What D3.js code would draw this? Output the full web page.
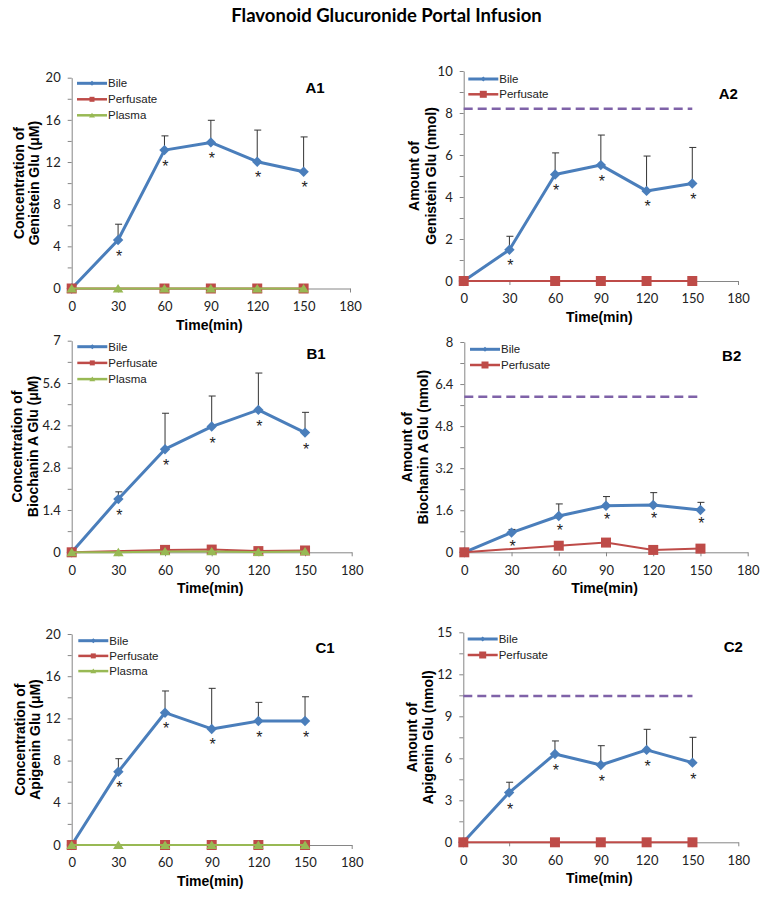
<!DOCTYPE html>
<html>
<head>
<meta charset="utf-8">
<script src="https://cdn.jsdelivr.net/npm/d3@7"></script>
<style>
  html, body { margin: 0; padding: 0; background: #fff; }
  svg { display: block; }
</style>
</head>
<body>
<svg id="chart" width="771" height="900"></svg>
<script>
// ---------------- DATA ----------------
const times = [0, 30, 60, 90, 120, 150];
const xTicks = [0, 30, 60, 90, 120, 150, 180];
const seriesNames = ["Bile", "Perfusate", "Plasma"];

// A1: Genistein Glu concentration (µM)
const a1Bile = [0, 4.6, 13.13, 13.86, 12.03, 11.08];
const a1BileSD = [0, 1.5, 1.35, 2.1, 3.0, 3.3];
const a1Perfusate = [0, null, 0, 0, 0, 0];
const a1Plasma = [0, 0, 0, 0, 0, 0];
const a1YTicks = [0, 4, 8, 12, 16, 20];

// A2: Genistein Glu amount (nmol)
const a2Bile = [0, 1.49, 5.07, 5.52, 4.29, 4.64];
const a2BileSD = [0, 0.64, 1.03, 1.43, 1.66, 1.72];
const a2Perfusate = [0, null, 0, 0, 0, 0];
const a2Dose = 8.2;
const a2YTicks = [0, 2, 4, 6, 8, 10];

// B1: Biochanin A Glu concentration (µM)
const b1Bile = [0, 1.76, 3.41, 4.16, 4.71, 3.96];
const b1BileSD = [0, 0.24, 1.19, 1.01, 1.22, 0.67];
const b1Perfusate = [0, null, 0.08, 0.09, 0.04, 0.06];
const b1Plasma = [0, 0, 0.03, 0.03, 0.01, 0.03];
const b1YTicks = [0, 1.4, 2.8, 4.2, 5.6, 7];

// B2: Biochanin A Glu amount (nmol)
const b2Bile = [0, 0.75, 1.38, 1.77, 1.80, 1.61];
const b2BileSD = [0, 0.12, 0.46, 0.35, 0.47, 0.29];
const b2Perfusate = [0, null, 0.25, 0.37, 0.09, 0.14];
const b2Dose = 5.92;
const b2YTicks = [0, 1.6, 3.2, 4.8, 6.4, 8];

// C1: Apigenin Glu concentration (µM)
const c1Bile = [0, 6.95, 12.54, 11.0, 11.75, 11.75];
const c1BileSD = [0, 1.23, 2.06, 3.85, 1.77, 2.3];
const c1Perfusate = [0, null, 0, 0, 0, 0];
const c1Plasma = [0, 0, 0, 0, 0, 0];
const c1YTicks = [0, 4, 8, 12, 16, 20];

// C2: Apigenin Glu amount (nmol)
const c2Bile = [0, 3.55, 6.31, 5.52, 6.6, 5.69];
const c2BileSD = [0, 0.74, 0.93, 1.38, 1.47, 1.81];
const c2Perfusate = [0, null, 0, 0, 0, 0];
const c2Dose = 10.45;
const c2YTicks = [0, 3, 6, 9, 12, 15];

// significance marks (* at every non-zero time point)
const significant = [false, true, true, true, true, true];

// ---------------- STYLE ----------------
const COLORS = { Bile: "#4A7EBB", Perfusate: "#BE4B48", Plasma: "#98B954", dose: "#7F62A8", axis: "#868686", err: "#333333" };
const TICK_FONT = "Lato, 'Open Sans', sans-serif";
const ARIAL = "'Liberation Sans', Arial, sans-serif";

const panels = [
  { id: "A1", bile: a1Bile, sd: a1BileSD, perf: a1Perfusate, plasma: a1Plasma, yTicks: a1YTicks,
    title: ["Concentration of", "Genistein Glu (\u03bcM)"],
    box: { x0: 71.7, x1: 350, yTop: 77.7, yBot: 288.5 }, titleX: [19, 33.5],
    legend: { x: 77, y: 83.3, dy: 16, mk: 5 }, label: { x: 315, y: 87.7 }, astOff: 12.5 },
  { id: "A2", bile: a2Bile, sd: a2BileSD, perf: a2Perfusate, plasma: null, dose: a2Dose, yTicks: a2YTicks,
    title: ["Amount of", "Genistein Glu (nmol)"],
    box: { x0: 463.7, x1: 738, yTop: 71, yBot: 281 }, titleX: [414, 430.7],
    legend: { x: 468.3, y: 79, dy: 15.3, mk: 7 }, label: { x: 728.3, y: 93.3 }, astOff: 12.5 },
  { id: "B1", bile: b1Bile, sd: b1BileSD, perf: b1Perfusate, plasma: b1Plasma, yTicks: b1YTicks,
    title: ["Concentration of", "Biochanin A Glu (\u03bcM)"],
    box: { x0: 71.7, x1: 351.7, yTop: 340.7, yBot: 552.3 }, titleX: [17.3, 33.3],
    legend: { x: 77.3, y: 346.7, dy: 16.2, mk: 5 }, label: { x: 316, y: 353.3 }, astOff: 13 },
  { id: "B2", bile: b2Bile, sd: b2BileSD, perf: b2Perfusate, plasma: null, dose: b2Dose, yTicks: b2YTicks,
    title: ["Amount of", "Biochanin A Glu (nmol)"],
    box: { x0: 464.3, x1: 747.7, yTop: 342, yBot: 552.3 }, titleX: [406.7, 423.3],
    legend: { x: 470, y: 349.3, dy: 15.7, mk: 7 }, label: { x: 731.7, y: 355 }, astOff: 10.5 },
  { id: "C1", bile: c1Bile, sd: c1BileSD, perf: c1Perfusate, plasma: c1Plasma, yTicks: c1YTicks,
    title: ["Concentration of", "Apigenin Glu (\u03bcM)"],
    box: { x0: 71.7, x1: 351.7, yTop: 634, yBot: 845 }, titleX: [20, 35],
    legend: { x: 78.3, y: 640.7, dy: 15.2, mk: 5 }, label: { x: 325, y: 647.3 }, astOff: 12.5 },
  { id: "C2", bile: c2Bile, sd: c2BileSD, perf: c2Perfusate, plasma: null, dose: c2Dose, yTicks: c2YTicks,
    title: ["Amount of", "Apigenin Glu (nmol)"],
    box: { x0: 463.3, x1: 738.3, yTop: 632.3, yBot: 842.3 }, titleX: [411.7, 427.7],
    legend: { x: 467.7, y: 639, dy: 16, mk: 7 }, label: { x: 733.3, y: 646 }, astOff: 13 }
];

const svg = d3.select("#chart");

svg.append("text")
  .attr("x", 386.5).attr("y", 15)
  .attr("text-anchor", "middle").attr("dominant-baseline", "central")
  .style("font-family", TICK_FONT).style("font-weight", "bold").style("font-size", "18.5px")
  .text("Flavonoid Glucuronide Portal Infusion");

const diamondPath = r => `M0,${-r}L${r},0L0,${r}L${-r},0Z`;
const squarePath = r => `M${-r},${-r}H${r}V${r}H${-r}Z`;
const trianglePath = r => `M0,${-r * 0.85}L${r},${r * 0.75}L${-r},${r * 0.75}Z`;

panels.forEach(p => {
  const b = p.box;
  const yMax = p.yTicks[p.yTicks.length - 1];
  const x = d3.scaleLinear().domain([0, 180]).range([b.x0, b.x1]);
  const y = d3.scaleLinear().domain([0, yMax]).range([b.yBot, b.yTop]);
  const g = svg.append("g");

  // y axis with minor ticks (every half step)
  const step = p.yTicks[1] - p.yTicks[0];
  const allTicks = d3.range(0, p.yTicks.length * 2 - 1).map(i => i * step / 2);
  const yAxis = d3.axisLeft(y).tickValues(allTicks).tickSize(4).tickSizeOuter(0)
    .tickFormat((d, i) => i % 2 === 0 ? String(p.yTicks[i / 2]) : "").tickPadding(7);
  const ya = g.append("g").attr("transform", `translate(${b.x0},0)`).call(yAxis);
  ya.selectAll("path, line").attr("stroke", COLORS.axis);
  ya.selectAll("text").style("font-family", TICK_FONT).style("font-size", "13px").attr("fill", "#222");

  // x axis
  const xAxis = d3.axisBottom(x).tickValues(xTicks).tickSize(4).tickSizeOuter(0).tickPadding(9);
  const xa = g.append("g").attr("transform", `translate(0,${b.yBot})`).call(xAxis);
  xa.selectAll("path, line").attr("stroke", COLORS.axis);
  xa.selectAll("text").style("font-family", TICK_FONT).style("font-size", "13px").attr("fill", "#222");

  // x title
  g.append("text")
    .attr("x", (b.x0 + b.x1) / 2 - 1.5).attr("y", b.yBot + 36)
    .attr("text-anchor", "middle").attr("dominant-baseline", "central")
    .style("font-family", ARIAL).style("font-weight", "bold").style("font-size", "14px")
    .text("Time(min)");

  // y title (two lines)
  const yMid = (b.yTop + b.yBot) / 2;
  p.title.forEach((t, i) => {
    g.append("text")
      .attr("transform", `translate(${p.titleX[i]},${yMid}) rotate(-90)`)
      .attr("text-anchor", "middle").attr("dominant-baseline", "central")
      .style("font-family", ARIAL).style("font-weight", "bold").style("font-size", "14px")
      .text(t);
  });

  // dose line
  if (p.dose != null) {
    g.append("line")
      .attr("x1", x(0)).attr("x2", x(150))
      .attr("y1", y(p.dose)).attr("y2", y(p.dose))
      .attr("stroke", COLORS.dose).attr("stroke-width", 2.5)
      .attr("stroke-dasharray", "9,5");
  }

  const pts = arr => times.map((t, i) => ({ t, v: arr[i], i })).filter(d => d.v != null);
  const line = d3.line().x(d => x(d.t)).y(d => y(d.v));

  // Bile: error bars (upper only), line, markers
  const bilePts = pts(p.bile);
  bilePts.filter(d => p.sd[d.i] > 0).forEach(d => {
    const top = y(d.v + p.sd[d.i]);
    g.append("line").attr("x1", x(d.t)).attr("x2", x(d.t)).attr("y1", y(d.v)).attr("y2", top)
      .attr("stroke", COLORS.err).attr("stroke-width", 1);
    g.append("line").attr("x1", x(d.t) - 3).attr("x2", x(d.t) + 4).attr("y1", top).attr("y2", top)
      .attr("stroke", COLORS.err).attr("stroke-width", 1);
  });
  g.append("path").datum(bilePts).attr("d", line)
    .attr("fill", "none").attr("stroke", COLORS.Bile).attr("stroke-width", 3).attr("stroke-linejoin", "round");
  g.selectAll(null).data(bilePts).enter().append("path")
    .attr("transform", d => `translate(${x(d.t)},${y(d.v)})`)
    .attr("d", diamondPath(5.2)).attr("fill", COLORS.Bile);

  // asterisks
  g.selectAll(null).data(bilePts.filter(d => significant[d.i])).enter().append("text")
    .attr("x", d => x(d.t) + 1).attr("y", d => y(d.v) + p.astOff + 9)
    .attr("text-anchor", "middle")
    .style("font-family", ARIAL).style("font-size", "16px").attr("fill", "#222")
    .text("*");

  // Perfusate
  const perfPts = pts(p.perf);
  g.append("path").datum(perfPts).attr("d", line)
    .attr("fill", "none").attr("stroke", COLORS.Perfusate).attr("stroke-width", 2);
  g.selectAll(null).data(perfPts).enter().append("path")
    .attr("transform", d => `translate(${x(d.t)},${y(d.v)})`)
    .attr("d", squarePath(5)).attr("fill", COLORS.Perfusate);

  // Plasma
  if (p.plasma) {
    const plPts = pts(p.plasma);
    g.append("path").datum(plPts).attr("d", line)
      .attr("fill", "none").attr("stroke", COLORS.Plasma).attr("stroke-width", 2);
    g.selectAll(null).data(plPts).enter().append("path")
      .attr("transform", d => `translate(${x(d.t)},${y(d.v)})`)
      .attr("d", trianglePath(5.3)).attr("fill", COLORS.Plasma);
  }

  // legend
  const names = p.plasma ? seriesNames : seriesNames.slice(0, 2);
  const L = p.legend;
  names.forEach((n, i) => {
    const ly = L.y + i * L.dy;
    const lg = g.append("g");
    lg.append("line").attr("x1", L.x).attr("x2", L.x + 30).attr("y1", ly).attr("y2", ly)
      .attr("stroke", COLORS[n]).attr("stroke-width", n === "Bile" ? 3 : 2.5);
    const mk = n === "Bile" ? diamondPath(2.5) : n === "Perfusate" ? squarePath(L.mk / 2) : trianglePath(3);
    lg.append("path").attr("transform", `translate(${L.x + 15},${ly})`).attr("d", mk).attr("fill", COLORS[n]);
    lg.append("text").attr("x", L.x + 31).attr("y", ly).attr("dominant-baseline", "central")
      .style("font-family", ARIAL).style("font-size", "11.5px").attr("fill", "#222").text(n);
  });

  // panel label
  g.append("text").attr("x", p.label.x).attr("y", p.label.y)
    .attr("text-anchor", "middle").attr("dominant-baseline", "central")
    .style("font-family", ARIAL).style("font-weight", "bold").style("font-size", "15px")
    .text(p.id);
});
</script>
</body>
</html>
